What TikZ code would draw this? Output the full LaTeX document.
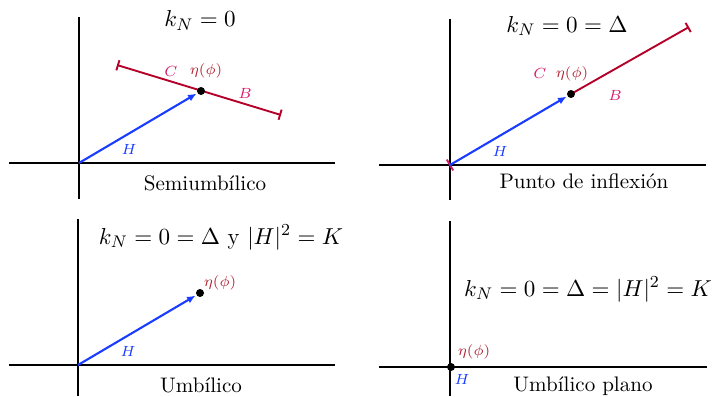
\documentclass[tikz,border=0pt]{standalone}
\usepackage{amsmath,amssymb}
\usepackage{xcolor}
\usepackage{tikz}
\usetikzlibrary{arrows.meta,calc}
\definecolor{hblue}{RGB}{25,60,255}
\definecolor{segred}{RGB}{180,0,40}
\definecolor{cbpink}{RGB}{215,25,105}
\definecolor{etared}{RGB}{175,35,50}
\tikzset{
  axis/.style={line width=0.65pt},
  hvec/.style={hblue,line width=1pt,-{Latex[length=4pt,width=3.5pt]},
               shorten >=2.5pt},
  seg/.style={segred,line width=0.9pt},
  ptdot/.style={fill=black},
  lbl/.style={font=\fontsize{7.5}{9}\selectfont},
  ttl/.style={font=\fontsize{11}{13}\selectfont,anchor=base},
  caption/.style={font=\normalsize,anchor=base},
}

\begin{document}
\begin{tikzpicture}[x=0.475pt,y=-0.475pt]
\useasboundingbox (0,0) rectangle (712,396);
% Panel 1: Semiumbilico
\draw[axis] (9,163) -- (335,163);
\draw[axis] (79,17) -- (79,199);
\coordinate (o1) at (79,163);
\coordinate (p1) at (201,91);
\coordinate (c1) at (117,65);
\coordinate (b1) at (281,115);
\draw[seg,{Bar[width=5pt]}-{Bar[width=5pt]}] (c1) -- (b1);
\draw[hvec] (o1) -- (p1);
\fill[ptdot] (p1) circle (1.9pt);
\node[lbl,text=cbpink] (C1) at (171,71) {$C$};
\node[lbl,text=etared] (eta1) at (206,71) {$\eta(\phi)$};
\node[lbl,text=cbpink] (B1) at (245,93) {$B$};
\node[lbl,text=hblue] (H1) at (129,149) {$H$};
\node[ttl] (t1) at (200,27) {$k_N = 0$};
\node[caption] (s1) at (205,190) {Semiumbílico};
% Panel 2: Punto de inflexion
\draw[axis] (379,165) -- (706,165);
\draw[axis] (450,19) -- (450,200);
\coordinate (o2) at (450,165);
\coordinate (p2) at (571,94);
\coordinate (b2) at (689,27);
\draw[seg,-{Bar[width=5pt]}] (p2) -- (b2);
\draw[cbpink,line width=0.9pt] ($(o2)!3pt!90:(p2)$) -- ($(o2)!3pt!-90:(p2)$);
\draw[hvec] (o2) -- (p2);
\fill[ptdot] (p2) circle (1.9pt);
\node[lbl,text=cbpink] (C2) at (540,73) {$C$};
\node[lbl,text=etared] (eta2) at (572,74) {$\eta(\phi)$};
\node[lbl,text=cbpink] (B2) at (615,95) {$B$};
\node[lbl,text=hblue] (H2) at (500,151) {$H$};
\node[ttl] (t2) at (567,32) {$k_N = 0 = \Delta$};
\node[caption] (s2) at (584,188) {Punto de inflexión};
% Panel 3: Umbilico
\draw[axis] (9,365) -- (335,365);
\draw[axis] (78,219) -- (78,396);
\coordinate (o3) at (78,365);
\coordinate (p3) at (200,293);
\draw[hvec] (o3) -- (p3);
\fill[ptdot] (p3) circle (1.9pt);
\node[lbl,text=etared] (eta3) at (220,283) {$\eta(\phi)$};
\node[lbl,text=hblue] (H3) at (128,351) {$H$};
\node[ttl] (t3) at (221,244) {$k_N = 0 = \Delta$ y $|H|^2 = K$};
\node[caption] (s3) at (201,392) {Umbílico};
% Panel 4: Umbilico plano
\draw[axis] (379,367) -- (707,367);
\draw[axis] (450,221) -- (450,396);
\coordinate (p4) at (451,367);
\fill[ptdot] (p4) circle (1.9pt);
\node[lbl,text=etared] (eta4) at (474,352) {$\eta(\phi)$};
\node[lbl,text=hblue] (H4) at (462,379) {$H$};
\node[ttl] (t4) at (588,296) {$k_N = 0 = \Delta = |H|^2 = K$};
\node[caption] (s4) at (583,391) {Umbílico plano};
\end{tikzpicture}
\end{document}
